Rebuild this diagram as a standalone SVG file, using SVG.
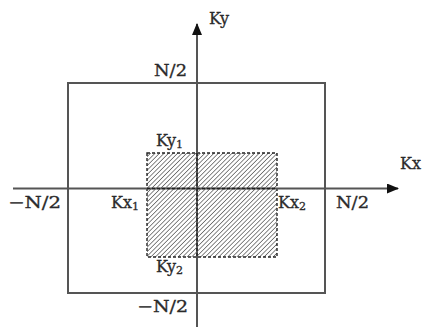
<svg xmlns="http://www.w3.org/2000/svg" width="426" height="327" viewBox="0 0 426 327">
<style>
.ln{stroke:#555;stroke-width:2;fill:none}
.dash{stroke:#222;stroke-width:1.4;stroke-dasharray:3 2;fill:none}
text{font-family:"DejaVu Serif","Liberation Serif",serif;font-size:16px;fill:#2a2a2a;stroke:#2a2a2a;stroke-width:0.3}
.sub{font-size:11px}
</style>
<defs>
<pattern id="hatch" patternUnits="userSpaceOnUse" width="3.2" height="3.2" patternTransform="rotate(45)">
<rect width="3.2" height="3.2" fill="#fff"/>
<line x1="0" y1="0" x2="0" y2="3.2" stroke="#555" stroke-width="1.4"/>
</pattern>
<marker id="arr" markerWidth="12" markerHeight="10" refX="11" refY="5" orient="auto" markerUnits="userSpaceOnUse">
<path d="M0,0 L12,5 L0,10 Z" fill="#111"/>
</marker>
</defs>
<g id="outer"><rect class="ln" x="68" y="83" width="257" height="210"/></g>
<g id="region">
<rect x="147" y="153" width="130" height="104" fill="url(#hatch)"/>
<rect class="dash" x="147" y="153" width="130" height="104"/>
</g>
<g id="connectors">
<line class="ln" x1="13" y1="188.5" x2="398" y2="188.5" marker-end="url(#arr)"/>
<line class="ln" x1="197" y1="327" x2="197" y2="24" marker-end="url(#arr)"/>
<line class="dash" x1="147" y1="188.5" x2="277" y2="188.5"/>
<line class="dash" x1="197" y1="153" x2="197" y2="257"/>
</g>
<g id="labels">
<text x="209" y="24">Ky</text>
<text x="400" y="169">Kx</text>
<text x="154" y="76" textLength="33" lengthAdjust="spacingAndGlyphs">N/2</text>
<text x="156" y="146">Ky<tspan class="sub" dy="2">1</tspan></text>
<text x="8" y="208" textLength="53" lengthAdjust="spacingAndGlyphs">−N/2</text>
<text x="111" y="208">Kx<tspan class="sub" dy="2">1</tspan></text>
<text x="278" y="208">Kx<tspan class="sub" dy="2">2</tspan></text>
<text x="336" y="208" textLength="33" lengthAdjust="spacingAndGlyphs">N/2</text>
<text x="156" y="272">Ky<tspan class="sub" dy="2">2</tspan></text>
<text x="137" y="312" textLength="51" lengthAdjust="spacingAndGlyphs">−N/2</text>
</g>
</svg>
